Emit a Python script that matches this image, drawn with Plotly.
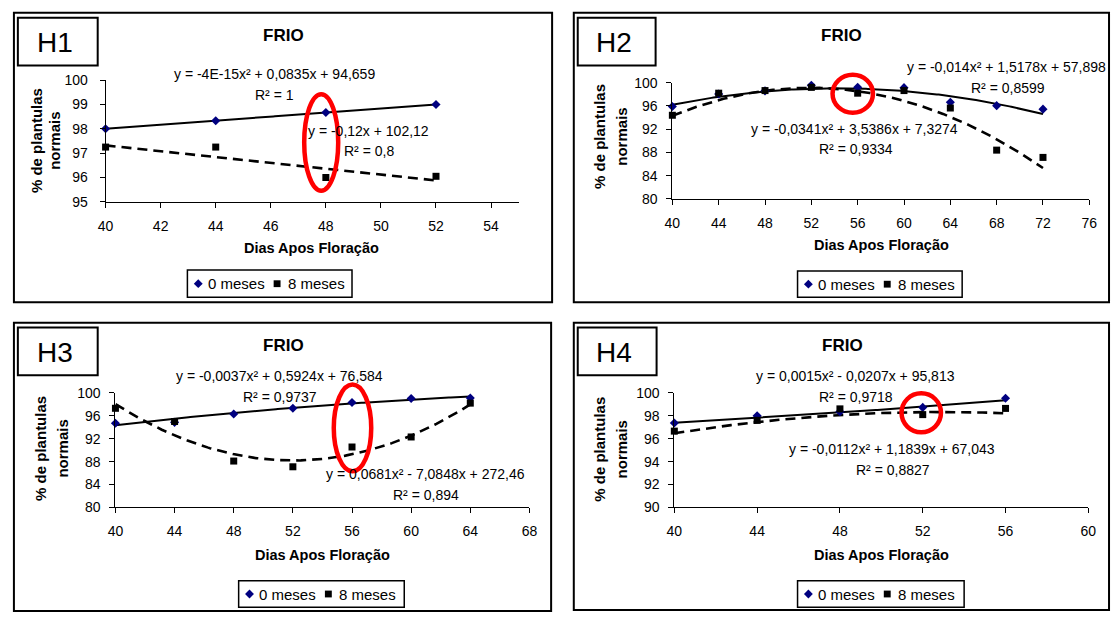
import numpy as np
import plotly.graph_objects as go

# ---------------- DATA ----------------
series_names = ["0 meses", "8 meses"]
panel_labels = ["H1", "H2", "H3", "H4"]
panel_title = "FRIO"
x_title = "Dias Apos Floração"
y_title_lines = ["% de plantulas", "normais"]

dias_h1 = [40, 44, 48, 52]
h1_0m = [98.0, 98.33, 98.67, 99.0]
h1_8m = [97.25, 97.25, 96.0, 96.05]
coef_h1_0m = [-4e-15, 0.0835, 94.659]
coef_h1_8m = [0.0, -0.12, 102.12]
eq_h1 = ["y = -4E-15x² + 0,0835x + 94,659", "R² = 1",
         "y = -0,12x + 102,12", "R² = 0,8"]

dias_h2 = [40, 44, 48, 52, 56, 60, 64, 68, 72]
h2_0m = [95.9, 98.05, 98.6, 99.55, 99.2, 99.15, 96.65, 96.05, 95.45]
h2_8m = [94.4, 98.2, 98.65, 99.2, 98.2, 98.65, 95.65, 88.4, 87.15]
coef_h2_0m = [-0.014, 1.5178, 57.898]
coef_h2_8m = [-0.0341, 3.5386, 7.3274]
eq_h2 = ["y = -0,014x² + 1,5178x + 57,898", "R² = 0,8599",
         "y = -0,0341x² + 3,5386x + 7,3274", "R² = 0,9334"]

dias_h3 = [40, 44, 48, 52, 56, 60, 64]
h3_0m = [94.7, 94.85, 96.3, 97.3, 98.3, 99.0, 99.1]
h3_8m = [97.3, 95.0, 88.1, 87.1, 90.55, 92.3, 98.2]
coef_h3_0m = [-0.0037, 0.5924, 76.584]
coef_h3_8m = [0.0681, -7.0848, 272.46]
eq_h3 = ["y = -0,0037x² + 0,5924x + 76,584", "R² = 0,9737",
         "y = 0,0681x² - 7,0848x + 272,46", "R² = 0,894"]

dias_h4 = [40, 44, 48, 52, 56]
h4_0m = [97.37, 97.99, 98.36, 98.73, 99.52]
h4_8m = [96.66, 97.6, 98.6, 98.1, 98.64]
coef_h4_0m = [0.0015, -0.0207, 95.813]
coef_h4_8m = [-0.0112, 1.1839, 67.043]
eq_h4 = ["y = 0,0015x² - 0,0207x + 95,813", "R² = 0,9718",
         "y = -0,0112x² + 1,1839x + 67,043", "R² = 0,8827"]

x_ranges = [[40, 55], [40, 76], [40, 68], [40, 60]]
x_dticks = [2, 4, 4, 4]
y_ranges = [[95, 100], [80, 100], [80, 100], [90, 100]]
y_dticks = [1, 4, 4, 2]

# ---------------- LAYOUT (pixel geometry) ----------------
W, H = 1119, 621
FONT = "Liberation Sans, Arial, sans-serif"


def px(x):
    return x / W


def py(y):
    return 1 - y / H


panels = [
    dict(x=dias_h1, a=h1_0m, b=h1_8m, ca=coef_h1_0m, cb=coef_h1_8m, eq=eq_h1,
         frame=(6, 5, 552, 302), lab=(10, 10, 91, 59),
         plot=(99, 74, 518, 199), title=(280, 28), xt=(308, 246), yt=(29, 47, 136),
         eqpos=[(270, 68), (270, 89), (366, 126), (366, 147)],
         leg=(182, 269, 349, 297), ell=(300.5, 88.5, 335, 187.5), ystand=9),
    dict(x=dias_h2, a=h2_0m, b=h2_8m, ca=coef_h2_0m, cb=coef_h2_8m, eq=eq_h2,
         frame=(574, 5, 1117, 302), lab=(578, 10, 657, 59),
         plot=(674, 76.7, 1097, 196), title=(846, 28), xt=(886, 243), yt=(600, 622, 132),
         eqpos=[(1013, 61), (1014, 82), (859, 124), (860, 145)],
         leg=(801, 270, 968, 297), ell=(836.5, 68.5, 877.5, 107.5), ystand=6),
    dict(x=dias_h3, a=h3_0m, b=h3_8m, ca=coef_h3_0m, cb=coef_h3_8m, eq=eq_h3,
         frame=(6, 323, 551, 619), lab=(10, 328, 91, 377),
         plot=(109, 395, 529, 512.7), title=(280, 346), xt=(319, 561), yt=(33, 55, 452),
         eqpos=[(275.5, 378), (275.5, 399), (424, 478), (424, 500)],
         leg=(234, 588, 402, 615), ell=(330.5, 386.5, 368.5, 475.5), ystand=6),
    dict(x=dias_h4, a=h4_0m, b=h4_8m, ca=coef_h4_0m, cb=coef_h4_8m, eq=eq_h4,
         frame=(574, 323, 1117, 618), lab=(578, 328, 658, 377),
         plot=(676, 395, 1096, 512.7), title=(847, 346), xt=(886, 561), yt=(600, 622, 453),
         eqpos=[(860, 378), (860, 399), (897, 453), (897.5, 474)],
         leg=(801, 588, 970, 615), ell=(906.5, 395.5, 946.5, 435.5), ystand=6),
]

fig = go.Figure()
shapes = []
annotations = []
layout_axes = {}


def note(text, x, y, size, xanchor="center", angle=0):
    annotations.append(dict(text=text, x=px(x), y=py(y), xref="paper", yref="paper",
                            xanchor=xanchor, yanchor="middle", showarrow=False,
                            textangle=angle, font=dict(family=FONT, size=size, color="black")))


def rect(x0, y0, x1, y1, **kw):
    shapes.append(dict(type="rect", xref="paper", yref="paper", x0=px(x0), x1=px(x1),
                       y0=py(y0), y1=py(y1), **kw))


for i, p in enumerate(panels):
    n = "" if i == 0 else str(i + 1)
    xa, ya = "x" + n, "y" + n
    x0, y0, x1, y1 = p["plot"]

    # trend lines from the printed equations
    xs = np.linspace(min(p["x"]), max(p["x"]), 200)
    fig.add_trace(go.Scatter(x=xs, y=np.polyval(p["ca"], xs), mode="lines",
                             line=dict(color="black", width=2),
                             xaxis=xa, yaxis=ya, showlegend=False, hoverinfo="skip"))
    fig.add_trace(go.Scatter(x=xs, y=np.polyval(p["cb"], xs), mode="lines",
                             line=dict(color="black", width=2.6, dash="10px,6px"),
                             xaxis=xa, yaxis=ya, showlegend=False, hoverinfo="skip"))
    # data points
    fig.add_trace(go.Scatter(x=p["x"], y=p["a"], mode="markers", name=series_names[0],
                             marker=dict(symbol="diamond", color="#000080", size=7),
                             xaxis=xa, yaxis=ya, showlegend=False, cliponaxis=False))
    fig.add_trace(go.Scatter(x=p["x"], y=p["b"], mode="markers", name=series_names[1],
                             marker=dict(symbol="square", color="black", size=7),
                             xaxis=xa, yaxis=ya, showlegend=False, cliponaxis=False))

    axcommon = dict(showline=True, linecolor="black", linewidth=1, ticks="outside",
                    ticklen=5, tickcolor="black", showgrid=False, zeroline=False,
                    tickfont=dict(family=FONT, size=14, color="black"), fixedrange=True)
    layout_axes["xaxis" + n] = dict(domain=[px(x0), px(x1)], range=x_ranges[i],
                                    dtick=x_dticks[i], tick0=40, anchor=ya,
                                    ticklabelstandoff=6, **axcommon)
    layout_axes["yaxis" + n] = dict(domain=[py(y1), py(y0)], range=y_ranges[i],
                                    dtick=y_dticks[i], anchor=xa,
                                    ticklabelstandoff=p["ystand"], **axcommon)

    # frame and label box
    rect(*p["frame"], line=dict(color="black", width=2))
    lx0, ly0, lx1, ly1 = p["lab"]
    rect(lx0, ly0, lx1, ly1, line=dict(color="black", width=2))
    note(panel_labels[i], (lx0 + lx1) / 2 - 3, (ly0 + ly1) / 2 + 1, 28)
    note("<b>" + panel_title + "</b>", p["title"][0], p["title"][1], 17)
    note("<b>" + x_title + "</b>", p["xt"][0], p["xt"][1], 14.5)
    note("<b>" + y_title_lines[0] + "</b>", p["yt"][0], p["yt"][2], 15, angle=-90)
    note("<b>" + y_title_lines[1] + "</b>", p["yt"][1], p["yt"][2], 15, angle=-90)
    for t, (ex, ey) in zip(p["eq"], p["eqpos"]):
        note(t, ex, ey, 14)

    # legend box
    gx0, gy0, gx1, gy1 = p["leg"]
    rect(gx0, gy0, gx1, gy1, line=dict(color="black", width=1.5),
         fillcolor="white", layer="below")
    gym = (gy0 + gy1) / 2
    dx = gx0 + 11
    shapes.append(dict(type="path", xref="paper", yref="paper",
                       path=f"M {px(dx-4.5)},{py(gym)} L {px(dx)},{py(gym-4.5)} L {px(dx+4.5)},{py(gym)} L {px(dx)},{py(gym+4.5)} Z",
                       fillcolor="#000080", line=dict(width=0)))
    note(series_names[0], gx0 + 19, gym, 15, xanchor="left")
    sx = gx0 + 91
    rect(sx - 3.5, gym - 3.5, sx + 3.5, gym + 3.5, fillcolor="black", line=dict(width=0))
    note(series_names[1], gx0 + 100, gym, 15, xanchor="left")

    # red ellipse highlight
    ex0, ey0, ex1, ey1 = p["ell"]
    shapes.append(dict(type="circle", xref="paper", yref="paper", x0=px(ex0), x1=px(ex1),
                       y0=py(ey0), y1=py(ey1), line=dict(color="#FF0000", width=4.5)))

fig.update_layout(width=W, height=H, autosize=False,
                  margin=dict(l=0, r=0, t=0, b=0),
                  paper_bgcolor="white", plot_bgcolor="rgba(0,0,0,0)",
                  showlegend=False, shapes=shapes, annotations=annotations,
                  font=dict(family=FONT, color="black"), **layout_axes)

fig.write_html("out.html", config={"displayModeBar": False},
               post_script="document.body.style.margin='0';document.body.style.overflow='hidden';")
